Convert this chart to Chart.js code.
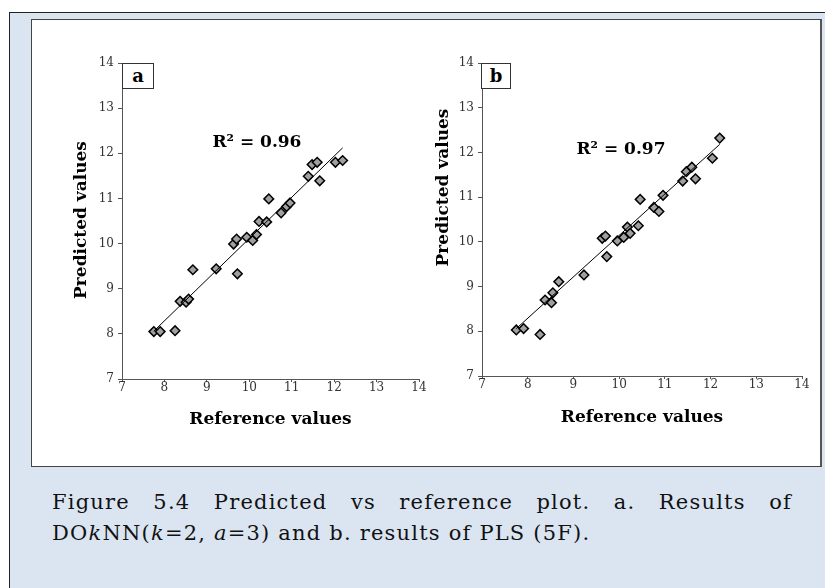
<!DOCTYPE html>
<html>
<head>
<meta charset="utf-8">
<script src="https://cdn.jsdelivr.net/npm/chart.js@4.4.0/dist/chart.umd.min.js"></script>
<style>
    body { margin: 0; width: 825px; height: 588px; background: #fff; position: relative; overflow: hidden; font-family: "DejaVu Serif", serif; }
    #panel { position: absolute; left: 9px; top: 12px; width: 816px; height: 576px; background: #dbe5f1; border-top: 1px solid #222; border-left: 1px solid #222; }
    #plotBox { position: absolute; left: 31px; top: 19px; width: 788px; height: 446px; background: #fff; border: 1px solid #444; border-right: 2px solid #555; }
    canvas { position: absolute; top: 20px; }
    #chartA { left: 40px; }
    #chartB { left: 420px; }
    .tag { position: absolute; top: 63px; height: 24px; border: 1px solid #333; background: #fff; font: bold 18px "DejaVu Serif", serif; text-align: center; line-height: 24px; }
    #tagA { left: 122px; width: 30px; }
    #tagB { left: 481px; width: 28px; }
    #caption { position: absolute; left: 52px; top: 487px; width: 740px; font-size: 21px; line-height: 31px; letter-spacing: 1.2px; color: #111; }
    #caption .l1 { text-align: justify; text-align-last: justify; }
</style>
</head>
<body>
<div id="panel"></div>
<div id="plotBox"></div>
<canvas id="chartA" width="400" height="440"></canvas>
<canvas id="chartB" width="400" height="440"></canvas>
<div class="tag" id="tagA">a</div>
<div class="tag" id="tagB">b</div>
<div id="caption">
    <div class="l1">Figure 5.4 Predicted vs reference plot. a. Results of</div>
    <div>DO<i>k</i>NN(<i>k</i>=2, <i>a</i>=3) and b. results of PLS (5F).</div>
</div>
<script>
// panel a: DOkNN
const referenceA = [7.75, 7.90, 8.25, 8.37, 8.51, 8.57, 8.67, 9.22, 9.72, 9.63, 9.70, 9.94, 10.08,
    10.17, 10.23, 10.41, 10.46, 10.75, 10.88, 10.96, 11.39, 11.48, 11.60, 11.66, 12.03, 12.20];
const predictedA = [8.05, 8.05, 8.07, 8.72, 8.70, 8.77, 9.42, 9.44, 9.33, 9.99, 10.10, 10.14, 10.07,
    10.20, 10.49, 10.48, 10.99, 10.68, 10.82, 10.90, 11.49, 11.75, 11.80, 11.39, 11.80, 11.84];

// panel b: PLS
const referenceB = [7.75, 7.91, 8.27, 8.38, 8.52, 8.55, 8.68, 9.23, 9.73, 9.63, 9.70, 9.96, 10.10,
    10.18, 10.24, 10.42, 10.46, 10.76, 10.87, 10.96, 11.39, 11.47, 11.59, 11.67, 12.04, 12.20];
const predictedB = [8.03, 8.06, 7.93, 8.70, 8.64, 8.86, 9.11, 9.26, 9.67, 10.08, 10.13, 10.02, 10.10,
    10.33, 10.19, 10.36, 10.95, 10.77, 10.68, 11.04, 11.36, 11.57, 11.67, 11.41, 11.87, 12.32];

// trendline ends
const trendXA = [7.75, 12.20];
const trendYA = [8.06, 12.12];
const trendXB = [7.75, 12.20];
const trendYB = [8.06, 12.18];

const axisTicks = [7, 8, 9, 10, 11, 12, 13, 14];
const r2TextA = 'R² = 0.96';
const r2TextB = 'R² = 0.97';

const serif = '"DejaVu Serif", serif';

// y title and R² text drawn by hand so they can sit where the original put them
const extrasPlugin = {
    id: 'extras',
    afterDraw(chart, args, opts) {
        const ctx = chart.ctx;
        const area = chart.chartArea;
        ctx.save();
        ctx.fillStyle = '#000';
        ctx.textAlign = 'center';
        ctx.textBaseline = 'middle';

        ctx.save();
        ctx.translate(area.left - opts.titleGap, (area.top + area.bottom) / 2 + opts.titleShift);
        ctx.rotate(-Math.PI / 2);
        ctx.font = 'bold 17px ' + serif;
        ctx.fillText('Predicted values', 0, 0);
        ctx.restore();

        ctx.font = 'bold 17px ' + serif;
        ctx.fillText(opts.r2, chart.scales.x.getPixelForValue(opts.r2At[0]), chart.scales.y.getPixelForValue(opts.r2At[1]));
        ctx.restore();
    }
};

function makePoints(xs, ys) {
    return xs.map((x, i) => ({ x: x, y: ys[i] }));
}

function axisOptions(size, titlePad, isX) {
    const opts = {
        type: 'linear',
        min: axisTicks[0],
        max: axisTicks[axisTicks.length - 1],
        afterBuildTicks: scale => { scale.ticks = axisTicks.map(v => ({ value: v })); },
        ticks: { font: { family: serif, size: 12 }, color: '#333', padding: isX ? -1 : 4 },
        grid: { drawOnChartArea: false, tickLength: isX ? 3 : 4, color: '#555' },
        border: { color: '#555' }
    };
    if (isX) {
        opts.title = { display: true, text: 'Reference values', color: '#000',
            font: { family: serif, size: 17, weight: 'bold' }, padding: { top: 0, bottom: titlePad } };
        opts.afterFit = scale => { scale.height = size; };
    } else {
        opts.afterFit = scale => { scale.width = size; };
    }
    return opts;
}

function drawPanel(canvasId, xs, ys, tx, ty, cfg) {
    const ctx = document.getElementById(canvasId).getContext('2d');
    return new Chart(ctx, {
        type: 'scatter',
        data: {
            datasets: [{
                type: 'line',
                data: makePoints(tx, ty),
                borderColor: '#000',
                borderWidth: 1,
                pointRadius: 0,
                fill: false,
                order: 0
            }, {
                data: makePoints(xs, ys),
                pointStyle: 'rectRot',
                pointRadius: 4.8,
                backgroundColor: '#a0a0a0',
                borderColor: '#000',
                borderWidth: 1.5,
                order: 1
            }]
        },
        options: {
            responsive: false,
            animation: false,
            layout: { padding: { top: 43, right: cfg.padRight, left: 0, bottom: 0 } },
            plugins: {
                legend: { display: false },
                tooltip: { enabled: false },
                extras: { titleGap: cfg.titleGap, titleShift: cfg.titleShift, r2: cfg.r2, r2At: cfg.r2At }
            },
            scales: {
                x: axisOptions(cfg.xHeight, cfg.xTitlePad, true),
                y: axisOptions(cfg.yWidth, 0, false)
            }
        },
        plugins: [extrasPlugin]
    });
}

drawPanel('chartA', referenceA, predictedA, trendXA, trendYA, {
    padRight: 21, xHeight: 81, yWidth: 82, xTitlePad: 30,
    titleGap: 40, titleShift: -1, r2: r2TextA, r2At: [10.18, 12.24]
});
drawPanel('chartB', referenceB, predictedB, trendXB, trendYB, {
    padRight: 18, xHeight: 84, yWidth: 62, xTitlePad: 32,
    titleGap: 38, titleShift: -32, r2: r2TextB, r2At: [10.04, 12.07]
});
</script>
</body>
</html>
